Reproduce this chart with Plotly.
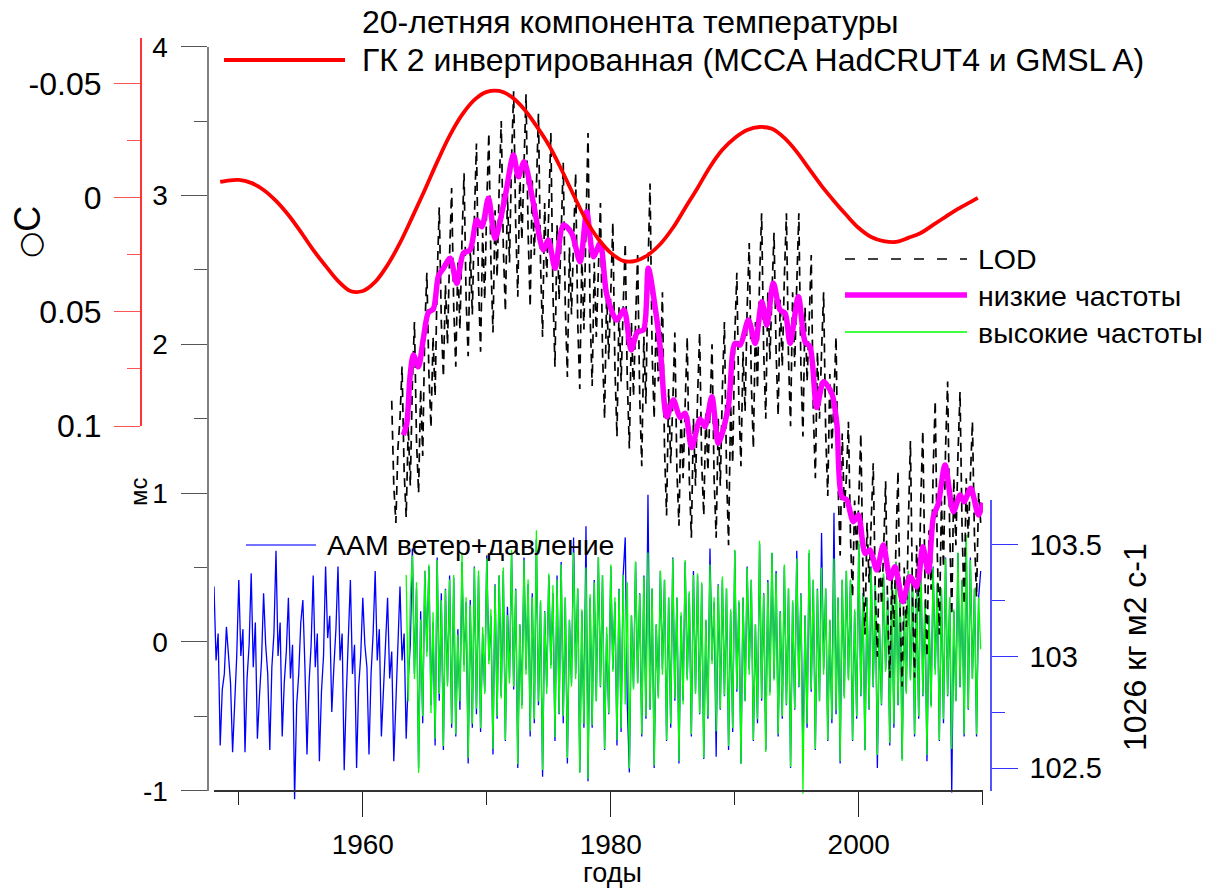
import plotly.graph_objects as go

# ---------------- data ----------------
# 20-year temperature component, PC2 inverted (deg C, reversed axis)
temp_years = [1948.5] + list(range(1949, 2010)) + [2009.6]
temp_vals = [-0.0070, -0.0075, -0.0079, -0.0066, -0.0035, 0.0013, 0.0075, 0.0149,
             0.0228, 0.0298, 0.0364, 0.0408, 0.0408, 0.0368, 0.0294, 0.0197,
             0.0083, -0.0035, -0.0158, -0.0272, -0.0364, -0.0430, -0.0465, -0.0469,
             -0.0443, -0.0390, -0.0316, -0.0232, -0.0127, -0.0013, 0.0096, 0.0180,
             0.0241, 0.0276, 0.0276, 0.0250, 0.0202, 0.0132, 0.0044, -0.0044,
             -0.0136, -0.0211, -0.0263, -0.0298, -0.0311, -0.0303, -0.0263, -0.0202,
             -0.0127, -0.0053, 0.0013, 0.0075, 0.0132, 0.0171, 0.0189, 0.0193,
             0.0175, 0.0154, 0.0118, 0.0083, 0.0048, 0.0018, 0.0000]

# LOD low-frequency component (ms)
low_years = [1963.27, 1963.55, 1963.81, 1964.08, 1964.48, 1964.89, 1965.29, 1965.69, 1966.10,
             1966.50, 1967.04, 1967.58, 1968.11, 1968.65, 1969.19, 1969.60, 1970.13, 1970.67,
             1971.48, 1972.15, 1972.55, 1973.01, 1973.76, 1974.56, 1974.97, 1975.51, 1976.18,
             1976.85, 1977.52, 1978.06, 1978.60, 1979.14, 1979.68, 1980.48, 1981.07, 1981.64,
             1982.16, 1982.63, 1983.03, 1983.57, 1983.98, 1984.52, 1985.05, 1985.59, 1985.99,
             1986.53, 1987.20, 1987.60, 1988.15, 1988.68, 1989.48, 1990.02, 1990.43, 1991.10,
             1991.64, 1992.18, 1992.58, 1993.11, 1993.65, 1994.06, 1994.46, 1995.13, 1995.67,
             1996.07, 1996.61, 1997.15, 1997.82, 1998.23, 1998.63, 1999.03, 1999.56, 1999.97,
             2000.51, 2000.91, 2001.45, 2001.98, 2002.52, 2002.93, 2003.55, 2004.14, 2004.68,
             2005.16, 2005.61, 2006.02, 2006.42, 2006.96, 2007.63, 2008.17, 2008.49, 2009.03,
             2009.65, 2010.00]
low_vals = [1.390, 1.469, 1.782, 1.928, 1.849, 2.042, 2.214, 2.237, 2.459,
            2.511, 2.578, 2.410, 2.612, 2.634, 2.835, 2.790, 2.981, 2.712,
            2.992, 3.272, 3.126, 3.227, 2.948, 2.634, 2.701, 2.511, 2.802,
            2.746, 2.555, 2.891, 2.589, 2.679, 2.331, 2.163, 2.231, 1.962,
            2.085, 2.096, 2.511, 2.253, 1.984, 1.513, 1.626, 1.508, 1.536,
            1.306, 1.498, 1.446, 1.648, 1.335, 1.581, 2.007, 1.995, 2.163,
            2.007, 2.286, 2.130, 2.410, 2.231, 2.208, 2.007, 2.320, 2.017,
            1.984, 1.575, 1.749, 1.671, 1.469, 0.976, 0.954, 0.808, 0.853,
            0.595, 0.618, 0.483, 0.651, 0.427, 0.505, 0.270, 0.438, 0.371,
            0.640, 0.472, 0.841, 0.931, 1.189, 0.875, 0.987, 0.942, 1.032,
            0.853, 0.935]

# LOD (ms), readings every 2 months starting 1962 + 2/6
lod_start, lod_step = 1962 + 2 / 6, 1 / 6
lod_vals = [1.62, 1.05, 0.80, 1.30,
            1.50, 1.85, 1.15, 0.84, 1.45, 1.05,  1.75, 2.15, 1.35, 1.00, 1.70, 1.25,
            2.10, 2.48, 1.80, 1.44, 2.05, 1.65,  2.45, 2.92, 2.15, 1.78, 2.40, 2.00,
            2.60, 3.05, 2.25, 1.85, 2.55, 2.10,  2.70, 3.15, 2.30, 1.92, 2.65, 2.20,
            2.85, 3.35, 2.40, 1.95, 2.75, 2.30,  2.95, 3.42, 2.55, 2.08, 2.90, 2.45,
            3.05, 3.50, 2.65, 2.22, 3.00, 2.55,  3.25, 3.70, 2.80, 2.32, 3.15, 2.70,
            3.20, 3.68, 2.75, 2.25, 3.10, 2.60,  3.05, 3.55, 2.55, 2.05, 2.95, 2.45,
            2.90, 3.42, 2.35, 1.85, 2.80, 2.30,  2.75, 3.22, 2.25, 1.78, 2.65, 2.20,
            2.70, 3.15, 2.15, 1.70, 2.60, 2.10,  2.80, 3.42, 2.20, 1.72, 2.55, 2.05,
            2.50, 2.95, 1.95, 1.50, 2.35, 1.90,  2.35, 2.82, 1.85, 1.38, 2.25, 1.75,
            2.25, 2.68, 1.75, 1.30, 2.15, 1.65,  2.15, 2.60, 1.65, 1.18, 2.05, 1.60,
            2.50, 3.08, 1.95, 1.50, 2.20, 1.75,  1.85, 2.35, 1.30, 0.85, 1.70, 1.20,
            1.60, 2.08, 1.15, 0.78, 1.55, 1.10,  1.60, 2.05, 1.10, 0.70, 1.50, 1.05,
            1.65, 2.08, 1.20, 0.85, 1.55, 1.15,  1.55, 2.00, 1.10, 0.70, 1.50, 1.05,
            1.70, 2.15, 1.15, 0.65, 1.60, 1.20,  2.05, 2.48, 1.60, 1.18, 1.95, 1.55,
            2.25, 2.68, 1.75, 1.30, 2.15, 1.70,  2.45, 2.88, 1.95, 1.50, 2.35, 1.90,
            2.35, 2.75, 1.95, 1.52, 2.30, 1.85,  2.45, 2.88, 1.90, 1.45, 2.35, 1.85,
            2.40, 2.88, 1.85, 1.38, 2.25, 1.75,  2.15, 2.60, 1.55, 1.10, 1.95, 1.50,
            1.95, 2.35, 1.40, 0.98, 1.80, 1.30,  1.65, 2.05, 1.05, 0.58, 1.40, 0.90,
            1.10, 1.48, 0.70, 0.30, 0.95, 0.60,  0.95, 1.40, 0.50, 0.05, 0.80, 0.40,
            0.80, 1.20, 0.35, -0.10, 0.60, 0.25,  0.60, 1.08, 0.20, -0.24, 0.45, 0.10,
            0.65, 1.15, 0.20, -0.30, 0.50, 0.10,  0.80, 1.35, 0.30, -0.24, 0.65, 0.20,
            0.95, 1.42, 0.45, -0.10, 0.75, 0.35,  1.15, 1.62, 0.60, 0.05, 0.95, 0.50,
            1.30, 1.75, 0.75, 0.18, 1.10, 0.65,  1.25, 1.68, 0.75, 0.25, 1.10, 0.70,
            1.10, 1.48, 0.70, 0.30, 1.00, 0.80]

# LOD high-frequency component (ms), readings every 2 months starting 1963.5
hf_start, hf_step = 1963.5, 1 / 6
hf_vals = [0.45, -0.40, 0.30,
           0.58, -0.25, 0.40, -0.88, 0.15, -0.50,  0.48, -0.10, 0.52, -0.48, 0.20, -0.65,
           0.55, -0.35, 0.28, -0.70, 0.35, -0.30,  0.42, -0.55, 0.45, -0.62, 0.05, -0.40,
           0.60, -0.20, 0.30, -0.78, 0.25, -0.55,  0.50, -0.45, 0.48, -0.58, 0.10, -0.35,
           0.56, -0.15, 0.22, -0.72, 0.38, -0.50,  0.45, -0.38, 0.50, -0.66, 0.18, -0.28,
           0.62, -0.30, 0.35, -0.82, 0.12, -0.45,  0.55, -0.22, 0.42, -0.60, 0.30, -0.52,
           0.75, -0.40, 0.28, -0.86, 0.20, -0.35,  0.46, -0.18, 0.38, -0.64, 0.42, -0.48,
           0.52, -0.50, 0.30, -0.78, 0.15, -0.30,  0.60, -0.25, 0.36, -0.88, 0.22, -0.55,
           0.50, -0.92, 0.32, -0.56, 0.40, -0.40,  0.57, -0.30, 0.45, -0.72, 0.10, -0.48,
           0.52, -0.20, 0.30, -0.66, 0.35, -0.58,  0.45, -0.42, 0.40, -0.85, 0.18, -0.32,
           0.54, -0.28, 0.32, -0.62, 0.44, -0.50,  0.60, -0.45, 0.36, -0.83, 0.12, -0.38,
           0.48, -0.22, 0.42, -0.66, 0.30, -0.55,  0.56, -0.38, 0.30, -0.80, 0.20, -0.42,
           0.55, -0.26, 0.34, -0.62, 0.45, -0.35,  0.46, -0.48, 0.40, -0.78, 0.15, -0.50,
           0.52, -0.15, 0.30, -0.60, 0.38, -0.45,  0.44, -0.36, 0.36, -0.70, 0.22, -0.58,
           0.62, -0.32, 0.28, -0.82, 0.30, -0.40,  0.50, -0.22, 0.42, -0.66, 0.12, -0.52,
           0.68, -0.38, 0.32, -0.74, 0.40, -0.36,  0.60, -0.26, 0.46, -0.62, 0.20, -0.50,
           0.52, -0.42, 0.36, -0.84, 0.28, -0.45,  0.56, -0.30, 0.32, -1.02, 0.18, -0.55,
           0.62, -0.32, 0.42, -0.72, 0.35, -0.40,  0.50, -0.22, 0.36, -0.66, 0.15, -0.52,
           0.56, -0.46, 0.30, -0.80, 0.42, -0.38,  0.48, -0.26, 0.42, -0.66, 0.22, -0.50,
           0.68, -0.36, 0.32, -0.73, 0.30, -0.45,  0.50, -0.30, 0.40, -0.76, 0.12, -0.42,
           0.46, -0.20, 0.30, -0.68, 0.38, -0.55,  0.54, -0.42, 0.36, -0.80, 0.20, -0.35,
           0.48, -0.26, 0.42, -0.62, 0.32, -0.50,  0.63, -0.36, 0.28, -0.76, 0.18, -0.44,
           0.50, -0.22, 0.40, -0.66, 0.36, -0.52,  0.56, -0.36, 0.30, -0.72, 0.22, -0.40,
           0.60, -0.30, 0.42, -0.62, 0.72, -0.45,  0.55, -0.25, 0.36, -0.62, 0.30, -0.05]

# AAM wind + pressure (10^26 kg m2 s-1), readings every 2 months starting 1948.0
aam_start, aam_step = 1948.0, 1 / 6
aam_vals = [103.31, 102.98, 103.10, 102.60, 102.85, 102.92,  103.13, 103.02, 102.88, 102.57, 102.80, 103.00,
            103.34, 103.00, 103.12, 102.57, 102.90, 103.05,  103.37, 102.95, 103.15, 102.63, 102.82, 102.98,
            103.28, 103.05, 102.92, 102.58, 102.95, 103.10,  103.47, 103.00, 103.15, 102.64, 102.88, 103.02,
            103.26, 102.90, 103.05, 102.36, 102.78, 102.92,  103.15, 103.25, 102.95, 102.56, 102.88, 103.05,
            103.36, 102.95, 103.10, 102.53, 102.84, 103.00,  103.40, 103.08, 103.18, 102.75, 102.95, 103.12,
            103.40, 102.98, 103.10, 102.49, 102.82, 103.05,  103.34, 102.92, 103.05, 102.50, 102.86, 103.00,
            103.26, 103.05, 102.95, 102.56, 102.92, 103.10,  103.38, 102.98, 103.12, 102.64, 102.85, 103.00,
            103.26, 102.90, 103.02, 102.53, 102.80, 103.08,  103.31, 102.98, 103.10, 102.63, 102.90, 103.05,
            103.48, 102.92, 103.30, 102.50, 103.20, 102.70,  103.38, 103.02, 103.40, 102.78, 103.15, 102.60,
            103.44, 102.80, 103.28, 102.58, 103.30, 102.88,  103.36, 102.68, 103.35, 102.64, 103.12, 102.76,
            103.42, 102.96, 103.24, 102.52, 103.25, 102.68,  103.40, 102.74, 103.36, 102.66, 103.10, 102.84,
            103.45, 102.98, 103.18, 102.56, 103.32, 102.72,  103.36, 102.82, 103.38, 102.62, 103.22, 102.90,
            103.46, 102.85, 103.30, 102.50, 103.14, 102.78,  103.44, 102.94, 103.32, 102.64, 103.28, 102.70,
            103.52, 102.78, 103.24, 102.46, 103.20, 102.86,  103.36, 102.96, 103.28, 102.62, 103.36, 102.74,
            103.42, 102.70, 103.26, 102.52, 103.16, 102.88,  103.53, 102.92, 103.30, 102.48, 103.20, 102.68,
            103.58, 102.44, 103.26, 102.68, 103.34, 102.80,  103.44, 102.86, 103.36, 102.58, 103.10, 102.74,
            103.40, 102.94, 103.24, 102.60, 103.30, 102.66,  103.36, 103.53, 102.78, 102.48, 103.18, 102.86,
            103.42, 102.88, 103.28, 102.64, 103.36, 102.72,  103.72, 102.76, 103.30, 102.50, 103.14, 102.82,
            103.38, 102.94, 103.34, 102.62, 103.26, 102.68,  103.44, 102.80, 103.26, 102.52, 103.18, 102.80,
            103.42, 102.90, 103.28, 102.64, 103.38, 102.84,  103.36, 102.74, 103.32, 102.54, 103.16, 102.72,
            103.48, 102.98, 103.24, 102.55, 103.32, 102.76,  103.34, 102.82, 103.30, 102.58, 103.20, 102.66,
            103.47, 102.84, 103.24, 102.52, 103.26, 102.80,  103.40, 102.94, 103.34, 102.62, 103.14, 102.70,
            103.50, 102.80, 103.28, 102.58, 103.34, 102.84,  103.46, 102.90, 103.38, 102.64, 103.20, 102.72,
            103.40, 102.78, 103.30, 102.50, 103.24, 102.76,  103.47, 102.86, 103.28, 102.52, 103.18, 102.68,
            103.46, 102.84, 103.34, 102.58, 103.30, 102.80,  103.55, 102.94, 103.30, 102.62, 103.16, 102.70,
            103.64, 102.74, 103.26, 102.52, 103.34, 102.82,  103.38, 102.90, 103.34, 102.62, 103.20, 102.72,
            103.50, 102.82, 103.28, 102.58, 103.26, 102.76,  103.40, 102.86, 103.32, 102.50, 103.14, 102.78,
            103.36, 102.94, 103.26, 102.60, 103.32, 102.68,  103.42, 102.78, 103.30, 102.54, 103.20, 102.84,
            103.38, 102.90, 103.34, 102.64, 103.28, 102.72,  103.48, 102.82, 103.24, 102.53, 103.18, 102.78,
            103.40, 102.94, 103.32, 102.62, 103.30, 102.70,  103.44, 102.82, 103.26, 102.39, 103.20, 102.80,
            103.46, 102.86, 103.34, 102.64, 103.52, 102.76,  103.44, 102.90, 103.30, 102.64, 103.26, 103.38]

x_major = [1960, 1980, 2000]
x_minor = [1950, 1970, 1990, 2010]
lod_ticks = [-1, 0, 1, 2, 3, 4]
lod_ticktext = ["-1", "0", "1", "2", "3", "4"]
temp_ticks = [-0.05, 0, 0.05, 0.1]
temp_ticktext = ["-0.05", "0", "0.05", "0.1"]
aam_ticks = [102.5, 103, 103.5]
aam_ticktext = ["102.5", "103", "103.5"]

lod_x = [lod_start + i * lod_step for i in range(len(lod_vals))]
hf_x = [hf_start + i * hf_step for i in range(len(hf_vals))]
aam_x = [aam_start + i * aam_step for i in range(len(aam_vals))]

# ---------------- layout geometry ----------------
FW, FH = 1219, 891
L, R, T, B = 100, 100, 38, 76
W = FW - L - R
H = FH - T - B


def px(x):
    return (x - L) / W


def py(y):
    return (T + H - y) / H


FONT = "Liberation Sans, Arial, sans-serif"

fig = go.Figure()

# AAM (blue) on the base data axis
fig.add_trace(go.Scatter(x=aam_x, y=aam_vals, mode="lines", xaxis="x", yaxis="y",
                         line=dict(color="#0000ff", width=1.3), name="AAM ветер+давление",
                         showlegend=False))
# high frequencies (green)
fig.add_trace(go.Scatter(x=hf_x, y=hf_vals, mode="lines", xaxis="x", yaxis="y2",
                         line=dict(color="#00ff00", width=1.3), name="высокие частоты",
                         showlegend=False))
# LOD (black dashed)
fig.add_trace(go.Scatter(x=lod_x, y=lod_vals, mode="lines", xaxis="x", yaxis="y2",
                         line=dict(color="black", width=1.7, dash="9px,6px"), name="LOD",
                         showlegend=False))
# low frequencies (magenta)
fig.add_trace(go.Scatter(x=low_years, y=low_vals, mode="lines", xaxis="x", yaxis="y2",
                         line=dict(color="#ff00ff", width=5.5, shape="spline", smoothing=0.8),
                         name="низкие частоты", showlegend=False))
# temperature (red)
fig.add_trace(go.Scatter(x=temp_years, y=temp_vals, mode="lines", xaxis="x", yaxis="y3",
                         line=dict(color="#ff0000", width=3.8, shape="spline", smoothing=1.0),
                         name="20-летняя компонента температуры", showlegend=False))
# anchors for display-only axes
for ax in ["y4", "y5"]:
    fig.add_trace(go.Scatter(x=[None], y=[None], xaxis="x", yaxis=ax, mode="lines",
                             showlegend=False, hoverinfo="skip"))

# data ranges that keep the same pixel scale as the drawn axes
lod_ppu = 148.8
aam_ppu = 223.8
y_lod_range = [-1 - (T + H - 790.7) / lod_ppu, -1 + (790.7 - T) / lod_ppu]
y_aam_range = [103 - (T + H - 656.0) / aam_ppu, 103 + (656.0 - T) / aam_ppu]

fig.update_layout(
    width=FW, height=FH,
    margin=dict(l=L, r=R, t=T, b=B),
    paper_bgcolor="white", plot_bgcolor="rgba(0,0,0,0)",
    font=dict(family=FONT, color="black"),
    showlegend=False,
    xaxis=dict(domain=[px(214), px(983)], range=[1948.0, 2010.02], anchor="free",
               position=py(790.7), showgrid=False, zeroline=False,
               showline=True, linecolor="#333333", linewidth=1.6,
               tickmode="array", tickvals=x_major, ticks="outside", ticklen=25,
               tickwidth=1.4, tickcolor="#222222", tickfont=dict(size=28),
               ticklabelstandoff=4,
               minor=dict(tickmode="array", tickvals=x_minor, ticks="outside",
                          ticklen=13, tickwidth=1.4, tickcolor="#222222")),
    yaxis=dict(domain=[0, 1], range=y_aam_range, visible=False),
    yaxis2=dict(overlaying="y", range=y_lod_range, visible=False),
    yaxis5=dict(domain=[py(790.7), py(46.7)], range=[-1, 4], anchor="free",
                position=px(207.5), side="left", showgrid=False, zeroline=False,
                showline=True, linecolor="#808080", linewidth=2,
                tickmode="array", tickvals=lod_ticks, ticktext=lod_ticktext,
                ticks="outside", ticklen=26, tickwidth=1.4, tickcolor="#555555",
                tickfont=dict(size=28), ticklabelstandoff=7,
                minor=dict(tickmode="array", tickvals=[-0.5, 0.5, 1.5, 2.5, 3.5],
                           ticks="outside", ticklen=13, tickwidth=1.4, tickcolor="#555555")),
    yaxis3=dict(domain=[py(426), py(38.3)], range=[0.1, -0.070], anchor="free",
                position=px(140.7), side="left", showgrid=False, zeroline=False,
                showline=True, linecolor="#ff3333", linewidth=1.5,
                tickmode="array", tickvals=temp_ticks, ticktext=temp_ticktext,
                ticks="outside", ticklen=26, tickwidth=1.4, tickcolor="#ff5555",
                tickfont=dict(size=32), ticklabelstandoff=6,
                minor=dict(tickmode="array", tickvals=[-0.025, 0.025, 0.075],
                           ticks="outside", ticklen=13, tickwidth=1.4, tickcolor="#ff5555")),
    yaxis4=dict(domain=[py(790.7), py(500)],
                range=[102.5 - (790.7 - 768.3) / aam_ppu, 102.5 + (768.3 - 500) / aam_ppu],
                anchor="free", position=px(990.7), side="right",
                showgrid=False, zeroline=False,
                showline=True, linecolor="#5555ff", linewidth=1.8,
                tickmode="array", tickvals=aam_ticks, ticktext=aam_ticktext,
                ticks="outside", ticklen=26, tickwidth=1.4, tickcolor="#3333ff",
                tickfont=dict(size=29), ticklabelstandoff=6,
                minor=dict(tickmode="array", tickvals=[102.75, 103.25],
                           ticks="outside", ticklen=13, tickwidth=1.4, tickcolor="#3333ff")),
)

# ---------------- legend samples and labels ----------------
shapes = [
    dict(type="line", xref="paper", yref="paper", x0=px(224), x1=px(345), y0=py(60), y1=py(60),
         line=dict(color="#ff0000", width=3.8)),
    dict(type="line", xref="paper", yref="paper", x0=px(845), x1=px(967), y0=py(259), y1=py(259),
         line=dict(color="black", width=1.6, dash="10px,13px")),
    dict(type="line", xref="paper", yref="paper", x0=px(845), x1=px(967), y0=py(295), y1=py(295),
         line=dict(color="#ff00ff", width=5.5)),
    dict(type="line", xref="paper", yref="paper", x0=px(845), x1=px(967), y0=py(332), y1=py(332),
         line=dict(color="#00ff00", width=1.4)),
    dict(type="line", xref="paper", yref="paper", x0=px(246), x1=px(316), y0=py(545), y1=py(545),
         line=dict(color="#4444ff", width=1.4)),
]
fig.update_layout(shapes=shapes)


def note(text, x, y, size, xanchor="left", angle=0):
    fig.add_annotation(text=text, x=px(x), y=py(y), xref="paper", yref="paper",
                       showarrow=False, xanchor=xanchor, yanchor="middle",
                       textangle=angle, font=dict(family=FONT, size=size, color="black"))


note("20-летняя компонента температуры", 360, 22, 32)
note("ГК 2 инвертированная (MCCA HadCRUT4 и GMSL A)", 360, 60, 32)
note("LOD", 976, 259, 28.5)
note("низкие частоты", 976, 296, 28.5)
note("высокие частоты", 976, 333, 28.5)
note("AAM ветер+давление", 325, 545, 28.5)
note("<span style=\"font-family:'DejaVu Sans';font-size:30px\">○</span>C", 27, 232, 36,
     xanchor="center", angle=-90)
note("мс", 138, 492, 24, xanchor="center", angle=-90)
note("1026 кг м2 с-1", 1135, 647, 32, xanchor="center", angle=-90)
note("годы", 612, 873, 27, xanchor="center")

fig.write_html("out.html", config={"displayModeBar": False},
               post_script="document.body.style.margin='0px';")
